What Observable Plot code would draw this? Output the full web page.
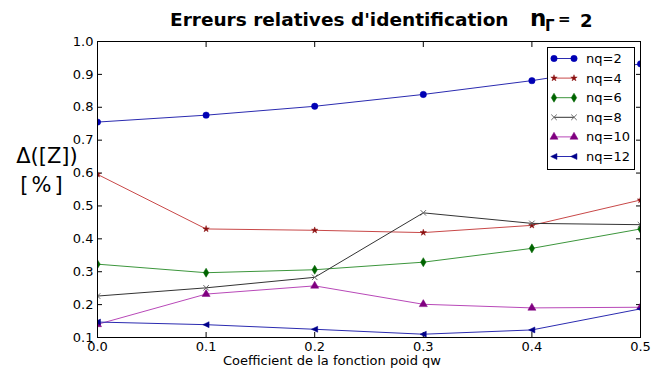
<!DOCTYPE html>
<html>
<head>
<meta charset="utf-8">
<script src="https://cdn.jsdelivr.net/npm/d3@7"></script>
<script src="https://cdn.jsdelivr.net/npm/@observablehq/plot@0.6"></script>
<style>
  html, body { margin: 0; padding: 0; background: #fff; }
  #wrap { position: relative; width: 651px; height: 370px; font-family: "DejaVu Sans", sans-serif; }
  #wrap svg { position: absolute; left: 0; top: 0; }
</style>
</head>
<body>
<div id="wrap"></div>
<script>
// ---- data ----
const qw = [0, 0.1, 0.2, 0.3, 0.4, 0.5];
const seriesNames = ["nq=2", "nq=4", "nq=6", "nq=8", "nq=10", "nq=12"];
const nq2  = [0.755, 0.776, 0.803, 0.839, 0.881, 0.932];
const nq4  = [0.596, 0.430, 0.426, 0.419, 0.441, 0.518];
const nq6  = [0.323, 0.297, 0.306, 0.329, 0.371, 0.430];
const nq8  = [0.226, 0.251, 0.283, 0.479, 0.447, 0.443];
const nq10 = [0.140, 0.232, 0.257, 0.201, 0.190, 0.192];
const nq12 = [0.147, 0.139, 0.125, 0.110, 0.123, 0.187];
const xTicks = [0, 0.1, 0.2, 0.3, 0.4, 0.5];
const yTicks = [0.1, 0.2, 0.3, 0.4, 0.5, 0.6, 0.7, 0.8, 0.9, 1.0];
const titleText = "Erreurs relatives d'identification";
const xLabel = "Coefficient de la fonction poid qw";

const values = [nq2, nq4, nq6, nq8, nq10, nq12];
const lineColors = ["#2b2bb0", "#c84848", "#3c963c", "#333333", "#b848b8", "#2b2bb0"];
const markColors = ["#0000b4", "#8b1010", "#006400", "#666666", "#800080", "#00008b"];

const triLeft = {
  draw(ctx, size) {
    const s = Math.sqrt(size) * 0.62;
    ctx.moveTo(-s, 0);
    ctx.lineTo(s * 0.9, -s * 0.9);
    ctx.lineTo(s * 0.9, s * 0.9);
    ctx.closePath();
  }
};
const thinDiamond = {
  draw(ctx, size) {
    const s = Math.sqrt(size) * 0.75;
    ctx.moveTo(0, -s);
    ctx.lineTo(s * 0.6, 0);
    ctx.lineTo(0, s);
    ctx.lineTo(-s * 0.6, 0);
    ctx.closePath();
  }
};
const symbols = ["circle", "star", thinDiamond, "times", "triangle", triLeft];
const radii = [3.2, 2.0, 3.4, 2.6, 3.0, 3.0];

const rows = [];
values.forEach((vals, i) => vals.forEach((v, j) => rows.push({series: seriesNames[i], idx: i, qw: qw[j], v})));

const marks = [];
seriesNames.forEach((name, i) => {
  const d = rows.filter(r => r.idx === i);
  marks.push(Plot.line(d, {x: "qw", y: "v", stroke: lineColors[i], strokeWidth: 1, clip: true}));
  const isTimes = symbols[i] === "times";
  marks.push(Plot.dot(d, {
    x: "qw", y: "v", symbol: () => symbols[i], r: radii[i],
    fill: isTimes ? "none" : markColors[i],
    stroke: markColors[i], strokeWidth: isTimes ? 1 : 0.5, clip: true
  }));
});

const chart = Plot.plot({
  width: 651,
  height: 370,
  marginLeft: 97,
  marginRight: 11,
  marginTop: 41,
  marginBottom: 33,
  style: {fontFamily: "DejaVu Sans, sans-serif", fontSize: "13px", color: "black", background: "white"},
  x: {domain: [0, 0.5]},
  y: {domain: [0.1, 1.0]},
  marks: [
    Plot.axisX(xTicks, {anchor: "bottom", tickSize: 0, tickPadding: 4, tickFormat: d => d.toFixed(1), fontSize: 13, label: null}),
    Plot.axisX(xTicks, {anchor: "bottom", tickSize: -5, tickFormat: () => "", label: null}),
    Plot.axisX(xTicks, {anchor: "top", tickSize: -5, tickFormat: () => "", label: null}),
    Plot.axisY(yTicks, {anchor: "left", tickSize: 0, tickPadding: 4, tickFormat: d => d.toFixed(1), fontSize: 13, label: null}),
    Plot.axisY(yTicks, {anchor: "left", tickSize: -5, tickFormat: () => "", label: null}),
    Plot.axisY(yTicks, {anchor: "right", tickSize: -5, tickFormat: () => "", label: null}),
    ...marks,
    Plot.frame({stroke: "black", strokeWidth: 1})
  ]
});
document.getElementById("wrap").appendChild(chart);

// ---- overlay: title, y label, x label, legend ----
const ov = d3.select("#wrap").append("svg")
  .attr("width", 651).attr("height", 370)
  .style("pointer-events", "none")
  .attr("font-family", "DejaVu Sans, sans-serif");

ov.append("text").attr("x", 170).attr("y", 26)
  .attr("font-size", 18.5).attr("font-weight", "bold").text(titleText);
ov.append("text").attr("x", 530).attr("y", 26).attr("font-size", 23).attr("font-weight", "bold").text("n");
ov.append("text").attr("x", 545).attr("y", 31).attr("font-size", 15).attr("font-weight", "bold").text("Γ");
ov.append("text").attr("x", 558).attr("y", 24).attr("font-size", 15).attr("font-weight", "bold").text("=");
ov.append("text").attr("x", 580).attr("y", 27).attr("font-size", 18).attr("font-weight", "bold").text("2");

ov.append("text").attr("x", 47).attr("y", 163).attr("text-anchor", "middle")
  .attr("font-size", 21).text("Δ([Z])");
ov.append("text").attr("x", 43).attr("y", 192).attr("text-anchor", "middle")
  .attr("font-size", 21).attr("letter-spacing", 3).text("[%]");
ov.append("text").attr("x", 332).attr("y", 365).attr("text-anchor", "middle")
  .attr("font-size", 13).text(xLabel);

// legend
const lg = ov.append("g").attr("transform", "translate(547,47)");
lg.append("rect").attr("x", 0.5).attr("y", 0.5).attr("width", 87).attr("height", 122)
  .attr("fill", "white").attr("stroke", "black").attr("stroke-width", 1);
seriesNames.forEach((name, i) => {
  const y = 11.5 + i * 19.6;
  const g = lg.append("g");
  g.append("line").attr("x1", 7).attr("x2", 27).attr("y1", y).attr("y2", y)
    .attr("stroke", lineColors[i]).attr("stroke-width", 1);
  const sym = typeof symbols[i] === "string"
    ? {circle: d3.symbolCircle, star: d3.symbolStar, times: d3.symbolTimes, triangle: d3.symbolTriangle}[symbols[i]]
    : symbols[i];
  const path = d3.symbol(sym, radii[i] * radii[i] * Math.PI)();
  const isTimes = symbols[i] === "times";
  [7, 27].forEach(x => {
    g.append("path").attr("d", path).attr("transform", `translate(${x},${y})`)
      .attr("fill", isTimes ? "none" : markColors[i])
      .attr("stroke", markColors[i]).attr("stroke-width", isTimes ? 1 : 0.5);
  });
  g.append("text").attr("x", 39).attr("y", y + 4.5).attr("font-size", 13).text(name);
});
</script>
</body>
</html>
